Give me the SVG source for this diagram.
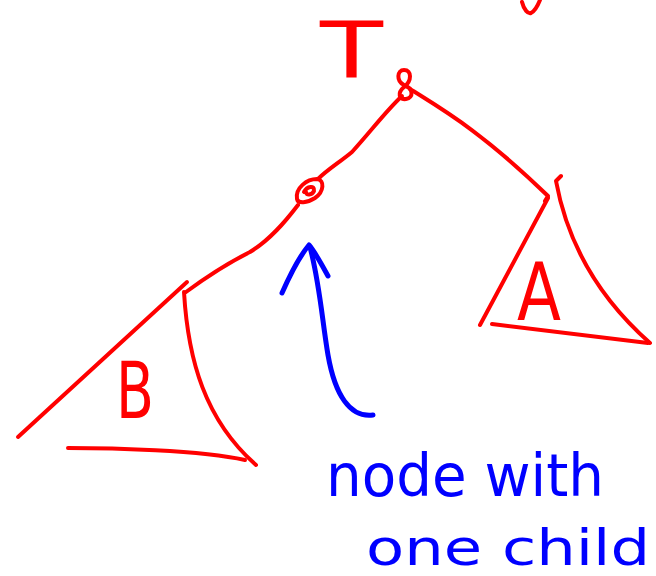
<svg xmlns="http://www.w3.org/2000/svg" width="656" height="576" viewBox="0 0 656 576">
<style>
.r{fill:none;stroke:#ff0000;stroke-width:4;stroke-linecap:round;stroke-linejoin:round}
.b{fill:none;stroke:#0000ff;stroke-width:5;stroke-linecap:round;stroke-linejoin:round}
.tr{fill:#ff0000;font-family:"DejaVu Sans",sans-serif}
.tb{fill:#0000ff;font-family:"DejaVu Sans",sans-serif}
</style>
<rect width="656" height="576" fill="#ffffff"/>
<g id="label-T">
<text class="tr" x="320" y="78" font-size="78" textLength="63" lengthAdjust="spacingAndGlyphs">T</text>
</g>
<path class="r" d="M522,2 C524,10 528,14 531,13 C535,11 538,5 540,0"/>
<g id="root">
<path class="r" d="M404,85 C396,81 397,70 404,70 C412,70 412,81 404,87 C397,93 399,100 406,99 C414,98 413,88 405,86"/>
</g>
<g id="node-one-child">
<path class="r" d="M297,199 C295,188 307,179 317,179 C325,180 324,192 315,198 C307,203 298,204 297,199 M304,192 C307,186 315,185 314,191 C312,195 306,196 306,192"/>
</g>
<g id="subtree-A">
<path class="r" d="M548,198 L480,325"/>
<path class="r" d="M561,176 L556,181 C565,230 590,290 650,343"/>
<path class="r" d="M492,324 C520,327 580,335 648,343"/>
<text class="tr" x="517" y="320" font-size="80" textLength="44" lengthAdjust="spacingAndGlyphs">A</text>
</g>
<g id="subtree-B">
<path class="r" d="M187,282 L18,437"/>
<path class="r" d="M184,292 C188,360 205,420 256,465"/>
<path class="r" d="M68,448 C110,448 200,450 245,460"/>
<text class="tr" x="116" y="418" font-size="78" textLength="38" lengthAdjust="spacingAndGlyphs">B</text>
</g>
<g id="connectors">
<path class="r" d="M402,96 C385,112 372,130 352,152 C340,162 327,170 318,179"/>
<path class="r" d="M410,89 C440,108 480,130 548,196 L545,201"/>
<path class="r" d="M298,205 C285,222 270,240 250,252 C230,262 205,278 186,292"/>
<path class="b" d="M373,415 C350,418 335,395 328,355 C322,320 320,285 310,247"/>
<path class="b" d="M282,293 C290,275 298,258 309,245 C315,252 322,265 328,276"/>
</g>
<g id="label-note">
<text class="tb" x="326" y="496" font-size="58" textLength="278" lengthAdjust="spacingAndGlyphs">node with</text>
<text class="tb" x="366" y="565" font-size="50" textLength="284" lengthAdjust="spacingAndGlyphs">one child</text>
</g>
</svg>
